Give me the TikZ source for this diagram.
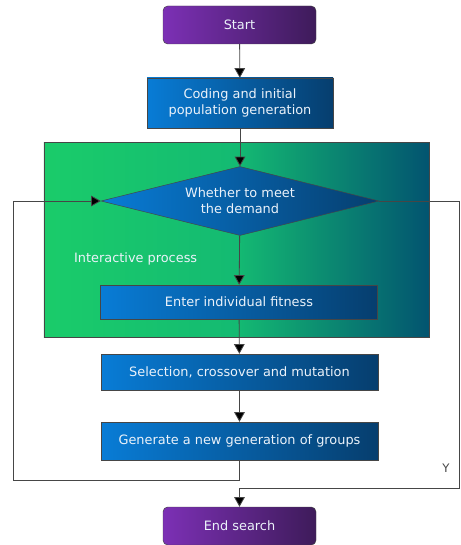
\documentclass[tikz,border=0pt]{standalone}
\usepackage{fontspec}
\setmainfont{DejaVu Sans}
\usepackage{tikz}
\usetikzlibrary{arrows.meta,shapes.geometric}
\definecolor{pl}{RGB}{124,48,181}
\definecolor{pr}{RGB}{62,27,90}
\definecolor{bl}{RGB}{8,124,214}
\definecolor{br}{RGB}{6,62,110}
\definecolor{gl}{RGB}{26,204,106}
\definecolor{gm}{RGB}{20,186,114}
\definecolor{gr}{RGB}{2,84,112}
\definecolor{ln}{RGB}{70,70,70}
\definecolor{tx}{RGB}{235,242,250}
\tikzset{
  term/.style={draw=ln,rounded corners=4pt,left color=pl,right color=pr,text=tx,font=\fontsize{11}{13.5}\selectfont,minimum width=45.9mm,minimum height=11.4mm,inner sep=0pt},
  proc/.style={draw=ln,left color=bl,right color=br,text=tx,align=center,font=\fontsize{11}{13.5}\selectfont,minimum width=83.1mm,inner sep=0pt},
  dec/.style={draw=ln,diamond,aspect=4,left color=bl,right color=br,text=tx,align=center,font=\fontsize{11}{13.5}\selectfont,minimum width=83.4mm,minimum height=20.7mm,inner sep=0pt},
  arr/.style={draw=ln,line width=0.7pt,-{Triangle[length=2.9mm,width=3.2mm,fill=black]}},
}
\begin{document}
\begin{tikzpicture}[x=0.3mm,y=-0.3mm]
\useasboundingbox (0,0) rectangle (460,545);
\node[draw=ln,left color=gl,right color=gr,middle color=gm,minimum width=115.5mm,minimum height=58.5mm] (zone) at (236.5,239.5) {};
\node[anchor=west,text=tx,font=\fontsize{11}{13.5}\selectfont] (ip) at (70,259) {Interactive process};
\node[term] (start) at (239.5,25) {Start};
\node[proc,minimum width=55.8mm,minimum height=15mm] (code) at (240,103) {Coding and initial\\population generation};
\node[dec] (meet) at (240,201) {Whether to meet\\the demand};
\node[proc,minimum height=10.2mm] (fit) at (239,302) {Enter individual fitness};
\node[proc,minimum height=10.8mm] (sel) at (239.5,372) {Selection, crossover and mutation};
\node[proc,minimum height=11.4mm] (gen) at (239.5,441) {Generate a new generation of groups};
\node[term] (end) at (239.5,526) {End search};
\node[text=ln,font=\fontsize{10}{12}\selectfont] (y) at (446,468) {Y};
\coordinate (lb) at (13,480);
\coordinate (rb) at (459.5,488);
\draw[arr] (start) -- (code);
\draw[arr] (code) -- (meet);
\draw[arr] (meet) -- (fit);
\draw[arr] (fit) -- (sel);
\draw[arr] (sel) -- (gen);
\draw[arr] (gen.south) |- (lb) |- (meet.west);
\draw[arr] (meet.east) -| (rb) -| (end.north);
\end{tikzpicture}
\end{document}
